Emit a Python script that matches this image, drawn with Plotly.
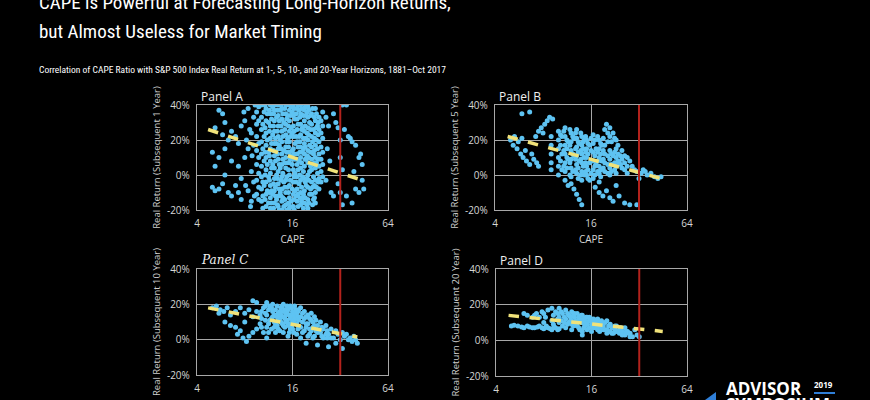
import plotly.graph_objects as go

# CAPE values and subsequent real returns (%)
# each row: (CAPE, [returns at that CAPE])
panel_a_rows = [
    (5.0, [13, -7]), (5.2, [27, 5, -9]), (5.5, [37, 10, -8]), (5.8, [35, 23, -5]),
    (6.0, [30, 15, 0]), (6.3, [20, -10]), (6.6, [25, 8, -12]), (7.0, [22, -6]),
    (7.3, [18, 5, -10]), (7.6, [28, -2, -14]), (7.9, [36]), (8.0, [10, 31]),
    (8.1, [-6]), (8.2, [20]), (8.4, [15, 38, -9]), (8.6, [26]), (8.7, [-18]),
    (8.8, [24, 2, -15]), (8.9, [11]), (9.1, [33, 17, -4]), (9.2, [-12]), (9.3, [40]),
    (9.5, [36, 29, 22, 14, 6, -3, -11]),
    (9.8, [39, 31, 18, 10, 1, -7, -14]),
    (10.2, [40, 33, 26, 19, 12, 5, -1, -8, -15]),
    (10.4, [29, 15, -4, -12, -19]),
    (10.6, [36, 22, 8, -6]),
    (10.75, [40, 27, 13, 0, -14]),
    (10.9, [38, 31, 24, 17, 10, 3, -4, -11, -18]),
    (11.1, [35, 20, 6, -9]),
    (11.3, [30, 13, -1, -16]),
    (11.45, [37, 25, 11, -3, -10]),
    (11.6, [40, 35, 28, 21, 15, 8, 1, -6, -13, -19]),
    (11.8, [32, 18, 4, -9, -16]),
    (12.0, [39, 23, 6, -11]),
    (12.15, [35, 28, 14, -5, -19]),
    (12.3, [37, 31, 25, 18, 11, 4, -2, -9, -16]),
    (12.5, [40, 21, 8, -7, -12]),
    (12.7, [33, 18, 0, -14]),
    (12.85, [37, 25, 12, -2, -17]),
    (13.0, [40, 34, 28, 22, 15, 9, 2, -5, -12, -18]),
    (13.2, [31, 17, 6, -8, -20]),
    (13.4, [37, 20, 4, -10]),
    (13.55, [40, 28, 15, -3, -12]),
    (13.7, [38, 32, 25, 19, 12, 6, -1, -8, -15, -20]),
    (13.9, [35, 22, 9, 1, -13]),
    (14.1, [30, 14, -4, -18]),
    (14.3, [38, 26, 7, -7, -14]),
    (14.5, [40, 35, 29, 23, 16, 10, 4, -3, -10, -17]),
    (14.7, [32, 19, 13, -1, -20]),
    (14.9, [34, 21, 7, -7]),
    (15.1, [40, 28, 16, 3, -10, -16]),
    (15.3, [37, 31, 25, 19, 13, 7, 0, -6, -13, -19]),
    (15.5, [34, 22, 9, -3, -18]),
    (15.7, [39, 27, 11, -15]),
    (15.95, [36, 24, 14, 6, -8]),
    (16.2, [40, 34, 28, 22, 15, 9, 3, -4, -11, -18]),
    (16.4, [38, 25, 12, -1, -14, -20]),
    (16.6, [32, 18, 1, -9]),
    (16.85, [35, 22, 9, -4, -12]),
    (17.1, [38, 32, 26, 19, 12, 6, -1, -8, -15]),
    (17.35, [40, 29, 16, 3, -11, -18]),
    (17.6, [37, 22, 8, -5]),
    (17.8, [33, 19, 13, 0, -13]),
    (18.0, [40, 35, 29, 23, 16, 10, 4, -3, -10, -17]),
    (18.25, [38, 26, 7, -7, -15]),
    (18.5, [27, 13, -1, -13]),
    (18.75, [34, 21, 15, 2, -11, -19]),
    (19.0, [37, 31, 25, 18, 12, 5, -2, -9, -16]),
    (19.25, [39, 28, 16, 9, -4, -13]),
    (19.5, [34, 21, 9, -6]),
    (19.75, [36, 24, 11, -2, -17]),
    (20.0, [39, 33, 27, 20, 14, 7, 0, -7, -14, -19]),
    (20.25, [37, 23, 10, -3, -16]),
    (20.5, [30, 17, 2, -11]),
    (20.8, [34, 26, 13, 5, -8]),
    (21.1, [35, 29, 22, 16, 9, 3, -4, -11]),
    (21.4, [38, 19, 6, -7, -17]),
    (21.7, [26, 12, -1, -14]),
    (22.0, [33, 21, 14, 7, -6, -13]),
    (22.3, [38, 31, 24, 17, 10, 4, -3, -10, -16]),
    (22.65, [35, 27, 20, 7, -7]),
    (23.0, [28, 15, 1]),
    (23.25, [30, 23, 9, -4]),
    (23.5, [33, 26, 19, 12, 5, -2, -8]),
    (24.2, [31, 24, 16, 9, 2, -4]),
    (24.8, [36, 28, 21, 13, 6, -1]),
    (26.0, [33, -3]), (26.5, [15]), (27.0, [28]), (27.5, [8]), (28.0, [-10]),
    (29.0, [-12, 35]), (30.0, [30]), (31.0, [27, -5]), (32.0, [20, 10, -10]),
    (33.0, [3, -17, 40]), (34.0, [26]), (35.0, [40, -12]), (36.0, [22]),
    (37.0, [21]), (38.0, [19, -16]), (39.0, [2]), (40.0, [17, -8]),
    (42.0, [10, -10]), (43.0, [12]), (44.0, [6, -3]), (45.0, [-8]),
]

panel_b_rows = [
    (5.0, [20]), (5.2, [17]), (5.3, [22]), (5.5, [15]), (5.6, [19]), (5.8, [12]),
    (5.9, [21, 35]), (6.0, [10]), (6.2, [14]), (6.3, [8]), (6.6, [6, 36]),
    (6.8, [12]), (7.0, [9]), (7.2, [22]), (7.3, [7]), (7.5, [5, 25]),
    (7.8, [27]), (8.0, [24]), (8.2, [29]), (8.5, [31]), (8.8, [33]), (9.2, [32]),
    (9.0, [22, 17, 12, 7, 3]),
    (10.0, [25, 20, 15, 10, 5, 0]),
    (10.3, [23, 17, 8]),
    (10.5, [22, 12, 3]),
    (10.8, [25, 14, 5]),
    (11.0, [27, 22, 17, 12, 7, 2, -3]),
    (11.3, [20, 15, 10, 4]),
    (11.5, [19, 9, -6]),
    (11.8, [26, 17, 7, 0]),
    (12.0, [24, 19, 14, 9, 4, -1, -5]),
    (12.3, [22, 12, 2]),
    (12.5, [21, 11, -8]),
    (12.8, [24, 15, 9, 3]),
    (13.0, [26, 21, 16, 11, 6, 1, -11]),
    (13.3, [19, 13, 4, -2]),
    (13.5, [18, 8, -14]),
    (13.8, [24, 14, 9, 0]),
    (14.0, [22, 17, 12, 7, 2, -3, -17]),
    (14.3, [19, 15, 5]),
    (14.5, [20, 10, 0]),
    (14.8, [22, 13, 7, 2]),
    (15.0, [20, 15, 10, 5, 0]),
    (15.3, [18, 12, 3, -2]),
    (15.7, [17, 7, -3]),
    (16.0, [21, 14, 8, 1]),
    (16.5, [23, 18, 13, 8, 3, -2]),
    (16.9, [20, 11, 5, 0]),
    (17.0, [-7]), (17.2, [15, 6]),
    (17.6, [22, 13, 8, 2]),
    (18.0, [20, 15, 10, 5, 1, -4, -10]),
    (18.4, [18, 12, 3, -1]),
    (18.7, [17, 8]),
    (19.0, [-12]),
    (19.1, [21, 14, 9, 4]),
    (19.5, [26, 17, 12, 7, 2]),
    (20.0, [29, -9]),
    (20.4, [24, 19, 11, 6, 1]),
    (21.0, [27, 22, 14, 9, 4, 0, -13]),
    (21.5, [19, 12, 6, 2]),
    (22.0, [24, 11, -15]),
    (22.5, [21, 13, 7, 3]),
    (23.0, [20, 15, 10, 5, 1, -6]),
    (23.6, [17, 12, 8]),
    (24.0, [-12, 7]),
    (24.5, [11, 6]),
    (25.0, [14, 9, 4]),
    (26.0, [-16, 11, 7, 3]),
    (27.0, [10, 5, 1]),
    (28.0, [-17, 8]),
    (29.0, [5]), (30.0, [3]), (31.0, [2, -17]), (32.0, [-2]), (33.0, [1]),
    (34.0, [3]), (35.0, [2]), (36.0, [0]), (38.0, [1]), (40.0, [-1]),
    (42.0, [-2]), (44.0, [-1]),
]

panel_c_rows = [
    (5.0, [18]), (5.3, [19]), (5.5, [15]), (5.6, [17]), (5.9, [16]),
    (6.0, [10]), (6.2, [18]), (6.5, [14, 8]), (7.0, [7, 16]), (7.2, [3]),
    (7.5, [5, 18]), (7.8, [1]), (8.0, [15, 10]), (8.2, [-1]), (8.5, [2, 17]),
    (9.0, [4, 13, 22]), (9.5, [16, 6, 21]), (10.0, [14, 9]), (10.2, [12, 16, 7]),
    (10.5, [18, 4]), (10.8, [11, 15, 19]),
    (11.0, [21, 7, 1, 14]), (11.3, [17, 9, 4]), (11.5, [19, 11]),
    (11.8, [12, 18, 6]), (12.0, [20, 13, 16]), (12.3, [10, 14, 7]),
    (12.5, [17, 9, 4]), (12.8, [19, 13, 8]), (13.0, [15, 6, 11]),
    (13.3, [16, 12, 5]), (13.5, [18, 10, 14]), (13.8, [9, 13, 19]),
    (14.0, [20, 4, 8, 16]), (14.3, [12, 17, 7]), (14.5, [14, 10]),
    (14.8, [15, 11, 19]), (15.0, [8, 2, 17]), (15.3, [9, 14, 4]),
    (15.5, [12, 19, 6]), (15.8, [14, 18, 8]), (16.0, [16, 6, 10]),
    (16.3, [11, 15, 4]), (16.5, [19, 13]), (16.8, [9, 17, 12]),
    (17.0, [15, 3, 9]), (17.3, [13, 6, 16]), (17.5, [11, 17]),
    (18.0, [18, 7, 1, 13]), (18.5, [10, 15, 4]),
    (19.0, [12, 16, 5]), (19.5, [-2, 9, 13, 7]), (20.0, [14, 9, 2]),
    (20.5, [12, 6, 3]), (21.0, [5, 11, 15]), (21.5, [10, 7, 1]),
    (22.0, [13, 2, 8]), (22.5, [11, 5]), (23.0, [8, -3, 4]),
    (24.0, [10, 4]), (24.5, [7, 2]), (25.0, [6, 1]), (26.0, [8, 3]),
    (26.5, [5, 1]), (27.0, [3, -4]),
    (28.0, [6, 1]), (29.0, [1]), (30.0, [5, -2]), (31.0, [3]), (32.0, [0]),
    (33.0, [4, -5]), (34.0, [2]), (35.0, [3]), (36.0, [0]), (37.0, [1]),
    (38.0, [-1]), (39.0, [2]), (40.0, [0]), (41.0, [-2]),
]

panel_d_rows = [
    (5.0, [8]), (5.2, [8.5]), (5.5, [8]), (5.8, [7.5]), (6.0, [7, 15]),
    (6.3, [8, 14]), (6.5, [7.5]), (6.8, [7, 13]), (7.0, [7, 14]), (7.2, [15]),
    (7.3, [7.5]), (7.5, [8, 13]), (7.8, [7, 16]), (8.0, [6.5, 15, 10]),
    (8.2, [13]), (8.3, [8]), (8.5, [7, 17]), (8.8, [6.5]), (9.0, [6, 18, 11]),
    (9.2, [14, 9]), (9.3, [7.5]), (9.5, [7, 16]), (9.8, [6, 12, 15]),
    (10.0, [6.5, 18, 10, 13]), (10.3, [11, 16]), (10.5, [8, 15]),
    (10.8, [13, 10]), (11.0, [17, 12, 7]), (11.3, [15, 9]), (11.5, [14, 10]),
    (11.8, [13, 11]), (12.0, [16, 9, 11, 6]), (12.3, [14, 8]),
    (12.5, [13, 15]), (12.8, [11, 9]), (13.0, [15, 8, 10]), (13.3, [13, 7]),
    (13.5, [12, 6]), (13.8, [10, 14]), (14.0, [14, 5, 3, 10]), (14.3, [12, 7]),
    (14.5, [11, 8]), (14.8, [9, 13]), (15.0, [13, 6, 9]), (15.5, [11, 7, 13]),
    (16.0, [12, 9, 5]), (16.5, [10, 7, 12]), (17.0, [11, 7]), (17.5, [9, 6, 12]),
    (18.0, [10, 5, 8]), (18.5, [9, 7, 11]), (19.0, [8, 6]), (19.5, [10, 6]),
    (20.0, [11, 6, 4]), (20.5, [8, 5]), (21.0, [9, 5]), (21.5, [7, 4]),
    (22.0, [7, 4]), (22.5, [6, 8]), (23.0, [8, 5]), (24.0, [6, 4]),
    (24.5, [5, 7]), (25.0, [5, 3]), (26.0, [7, 3]), (26.5, [4, 5]), (27.0, [5]),
    (28.0, [4, 2]), (29.0, [2]), (30.0, [6]), (31.0, [3]), (32.0, [2]),
]

# dashed trend lines: (start CAPE, end CAPE), (start return, end return)
trend_a_cape, trend_a_ret = [4.7, 44], [26, -3]
trend_b_cape, trend_b_ret = [4.8, 44], [22, -2]
trend_c_cape, trend_c_ret = [4.7, 41], [18, 1.5]
trend_d_cape, trend_d_ret = [4.8, 45], [14, 5]

current_cape = 32  # Oct 2017 (red line)

panel_names = ["Panel A", "Panel B", "Panel C", "Panel D"]
y_titles = ["Real Return (Subsequent 1 Year)", "Real Return (Subsequent 5 Year)",
            "Real Return (Subsequent 10 Year)", "Real Return (Subsequent 20 Year)"]
x_ticks = [4, 16, 64]
y_ticks = [-20, 0, 20, 40]
y_tick_text = ["-20%", "0%", "20%", "40%"]


def flatten(rows):
    xs, ys = [], []
    for cape, rets in rows:
        for r in rets:
            xs.append(cape)
            ys.append(r)
    return xs, ys


W, H = 870, 400
# plot areas in pixels: (left, right, top, bottom)
boxes = [(197, 388, 105, 210), (495, 687, 105, 210),
         (197, 388, 269, 375), (496, 687, 269, 376)]

fig = go.Figure()

rows_all = [panel_a_rows, panel_b_rows, panel_c_rows, panel_d_rows]
trends = [(trend_a_cape, trend_a_ret), (trend_b_cape, trend_b_ret),
          (trend_c_cape, trend_c_ret), (trend_d_cape, trend_d_ret)]

tick_font = dict(family="Open Sans, Noto Sans, sans-serif", size=10, color="#d6d6d6")
grid = "#a8a8a8"

for i in range(4):
    n = "" if i == 0 else str(i + 1)
    xs, ys = flatten(rows_all[i])
    fig.add_trace(go.Scatter(x=xs, y=ys, mode="markers", xaxis="x" + n, yaxis="y" + n,
                             marker=dict(size=5, color="#5ec3f2", line=dict(width=0)),
                             showlegend=False))
    tx, ty = trends[i]
    fig.add_trace(go.Scatter(x=tx, y=ty, mode="lines", xaxis="x" + n, yaxis="y" + n,
                             line=dict(color="#f0e27a", width=3.5, dash="dash"),
                             showlegend=False))
    fig.add_trace(go.Scatter(x=[current_cape, current_cape], y=[-20, 40], mode="lines",
                             xaxis="x" + n, yaxis="y" + n,
                             line=dict(color="#b3221c", width=2), showlegend=False))

    l, r, t, b = boxes[i]
    # bottom-row x titles fall off the page edge, so they are placed by hand
    x_title = dict(text="CAPE", font=tick_font, standoff=6) if i < 2 else None
    fig.layout["xaxis" + n] = dict(
        domain=[l / W, r / W], anchor="y" + n, type="log",
        range=[0.60206, 1.80618], tickvals=x_ticks, ticktext=[str(v) for v in x_ticks],
        showgrid=True, gridcolor=grid, gridwidth=1.3, zeroline=False,
        showline=True, mirror=True, linecolor=grid, linewidth=1.3,
        ticks="", tickfont=tick_font, ticklabelstandoff=4,
        title=x_title, automargin=False)
    if i >= 2:
        fig.add_annotation(x=(l + r) / 2 / W, y=1 - 406 / H, xref="paper", yref="paper",
                           text="CAPE", showarrow=False, xanchor="center",
                           yanchor="middle", font=tick_font)
    fig.layout["yaxis" + n] = dict(
        domain=[1 - b / H, 1 - t / H], anchor="x" + n,
        range=[-20, 40], tickvals=y_ticks, ticktext=y_tick_text,
        showgrid=True, gridcolor=grid, gridwidth=1.3, zeroline=False,
        showline=True, mirror=True, linecolor=grid, linewidth=1.3,
        ticks="", tickfont=tick_font, ticklabelstandoff=4,
        title=dict(text=y_titles[i], font=dict(family="Open Sans, Noto Sans, sans-serif",
                                               size=9.5, color="#cfcfcf"), standoff=4),
        automargin=False)

    label_font = dict(family="Open Sans, Noto Sans, sans-serif", size=12, color="#f0f0f0")
    if i == 2:
        label_font = dict(family="DejaVu Serif, Liberation Serif, serif", size=12,
                          color="#f0f0f0")
        text = "<i>" + panel_names[i] + "</i>"
    else:
        text = panel_names[i]
    fig.add_annotation(x=(l + 2) / W, y=1 - (t - 9) / H, xref="paper", yref="paper",
                       text=text, showarrow=False, xanchor="left", yanchor="middle",
                       font=label_font)

title_font = "Liberation Sans Narrow, Roboto Condensed, DejaVu Sans Condensed, sans-serif"
fig.add_annotation(x=37 / W, y=1 - 2 / H, xref="paper", yref="paper",
                   text="CAPE is Powerful at Forecasting Long-Horizon Returns,",
                   showarrow=False, xanchor="left", yanchor="middle",
                   font=dict(family=title_font, size=19, color="white"))
fig.add_annotation(x=37 / W, y=1 - 32 / H, xref="paper", yref="paper",
                   text="but Almost Useless for Market Timing",
                   showarrow=False, xanchor="left", yanchor="middle",
                   font=dict(family=title_font, size=19, color="white"))
fig.add_annotation(x=37 / W, y=1 - 69 / H, xref="paper", yref="paper",
                   text="Correlation of CAPE Ratio with S&P 500 Index Real Return at 1-, 5-, 10-, and 20-Year Horizons, 1881\u2013Oct 2017",
                   showarrow=False, xanchor="left", yanchor="middle",
                   font=dict(family=title_font, size=9.5, color="white"))

# logo in the corner
fig.add_annotation(x=724 / W, y=1 - 388 / H, xref="paper", yref="paper",
                   text="<b>ADVISOR</b>", showarrow=False, xanchor="left", yanchor="middle",
                   font=dict(family="Open Sans, sans-serif", size=17, color="white"))
fig.add_annotation(x=812 / W, y=1 - 384 / H, xref="paper", yref="paper",
                   text="<b>2019</b>", showarrow=False, xanchor="left", yanchor="middle",
                   font=dict(family="Open Sans, sans-serif", size=8, color="white"))
fig.add_annotation(x=724 / W, y=1 - 404 / H, xref="paper", yref="paper",
                   text="<b>SYMPOSIUM</b>", showarrow=False, xanchor="left", yanchor="middle",
                   font=dict(family="Open Sans, sans-serif", size=17, color="white"))
fig.add_shape(type="line", xref="paper", yref="paper", x0=814 / W, x1=835 / W,
              y0=1 - 393 / H, y1=1 - 393 / H, line=dict(color="#2f7fd8", width=2))
fig.add_shape(type="path", xref="paper", yref="paper",
              path=f"M {705 / W} {1 - 400 / H} L {716 / W} {1 - 392 / H} L {716 / W} {1 - 400 / H} Z",
              fillcolor="#2f7fd8", line=dict(width=0))

fig.update_layout(width=W, height=H, margin=dict(l=0, r=0, t=0, b=0),
                  paper_bgcolor="black", plot_bgcolor="black", showlegend=False)

fig.write_html("out.html", config={"displayModeBar": False},
               post_script="document.body.style.margin='0';"
                           "document.body.style.background='black';")
